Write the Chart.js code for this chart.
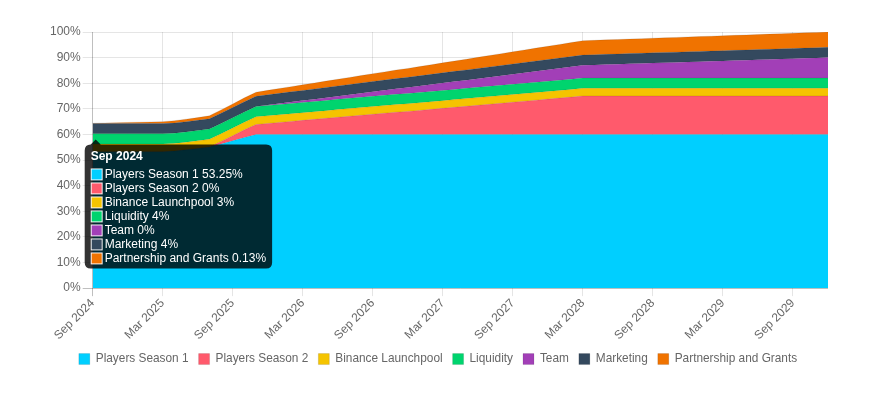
<!DOCTYPE html>
<html><head><meta charset="utf-8">
<script src="https://cdn.jsdelivr.net/npm/chart.js@4.4.0/dist/chart.umd.min.js"></script>
<style>html,body{margin:0;padding:0;background:#fff;}</style>
</head><body>
<canvas id="c" width="894" height="407"></canvas>
<script>
const months = ["Sep 2024","Oct 2024","Nov 2024","Dec 2024","Jan 2025","Feb 2025","Mar 2025","Apr 2025","May 2025","Jun 2025","Jul 2025","Aug 2025",
"Sep 2025","Oct 2025","Nov 2025","Dec 2025","Jan 2026","Feb 2026","Mar 2026","Apr 2026","May 2026","Jun 2026","Jul 2026","Aug 2026",
"Sep 2026","Oct 2026","Nov 2026","Dec 2026","Jan 2027","Feb 2027","Mar 2027","Apr 2027","May 2027","Jun 2027","Jul 2027","Aug 2027",
"Sep 2027","Oct 2027","Nov 2027","Dec 2027","Jan 2028","Feb 2028","Mar 2028","Apr 2028","May 2028","Jun 2028","Jul 2028","Aug 2028",
"Sep 2028","Oct 2028","Nov 2028","Dec 2028","Jan 2029","Feb 2029","Mar 2029","Apr 2029","May 2029","Jun 2029","Jul 2029","Aug 2029",
"Sep 2029","Oct 2029","Nov 2029","Dec 2029"];

const seriesNames = ["Players Season 1","Players Season 2","Binance Launchpool","Liquidity","Team","Marketing","Partnership and Grants"];

const playersSeason1 = [53.25,53.25,53.25,53.25,53.25,53.25,53.25,53.5,54.0,54.5,55.1,56.3,57.5,58.8,
60,60,60,60,60,60,60,60,60,60,60,60,60,60,60,60,60,60,60,60,60,60,60,60,60,60,60,60,60,60,60,60,60,60,60,60,
60,60,60,60,60,60,60,60,60,60,60,60,60,60];
const playersSeason2 = [0,0,0,0,0,0,0,0,0,0,0,1.0,2.0,3.0,3.9,4.3,4.7,5.1,5.5,5.9,6.3,6.7,7.1,7.5,7.9,8.3,8.7,9.0,9.4,9.8,
10.2,10.6,11.0,11.4,11.8,12.2,12.6,13.0,13.4,13.8,14.2,14.6,15,15,15,15,15,15,15,15,15,15,15,15,15,15,15,15,15,15,15,15,15,15];
const binanceLaunchpool = [3,3,3,3,3,3,3,3,3,3,3,3,3,3,3,3,3,3,3,3,3,3,3,3,3,3,3,3,3,3,3,3,3,3,3,3,3,3,3,3,3,3,3,3,3,3,3,3,3,3,3,3,3,3,3,3,3,3,3,3,3,3,3,3];
const liquidity = [4,4,4,4,4,4,4,4,4,4,4,4,4,4,4,4,4,4,4,4,4,4,4,4,4,4,4,4,4,4,4,4,4,4,4,4,4,4,4,4,4,4,4,4,4,4,4,4,4,4,4,4,4,4,4,4,4,4,4,4,4,4,4,4];
const team = [0,0,0,0,0,0,0,0,0,0,0,0,0,0,0,0.18,0.36,0.54,0.71,0.89,1.07,1.25,1.43,1.61,1.79,1.96,2.14,2.32,2.5,2.68,
2.86,3.04,3.21,3.39,3.57,3.75,3.93,4.11,4.29,4.46,4.64,4.82,5.0,5.14,5.29,5.43,5.57,5.71,5.86,6.0,6.14,6.29,6.43,6.57,
6.71,6.86,7.0,7.14,7.29,7.43,7.57,7.71,7.86,8.0];
const marketing = [4,4,4,4,4,4,4,4,4,4,4,4,4,4,4,4,4,4,4,4,4,4,4,4,4,4,4,4,4,4,4,4,4,4,4,4,4,4,4,4,4,4,4,4,4,4,4,4,4,4,4,4,4,4,4,4,4,4,4,4,4,4,4,4];
const partnershipGrants = [0.13,0.24,0.34,0.45,0.55,0.66,0.76,0.87,0.97,1.08,1.18,1.29,1.39,1.5,1.6,1.74,1.89,2.03,2.17,2.31,
2.46,2.6,2.74,2.89,3.03,3.17,3.31,3.46,3.6,3.74,3.89,4.03,4.17,4.31,4.46,4.6,4.74,4.89,5.03,5.17,5.31,5.46,5.6,
5.62,5.64,5.66,5.68,5.7,5.72,5.74,5.76,5.78,5.8,5.81,5.83,5.85,5.87,5.89,5.91,5.93,5.95,5.97,5.99,6.0];

const yTicks = [0,10,20,30,40,50,60,70,80,90,100];

const colors = ["#00CFFF","#FF5A6C","#F5C400","#00D46E","#A23FB7","#34495E","#F07300"];
const seriesValues = [playersSeason1,playersSeason2,binanceLaunchpool,liquidity,team,marketing,partnershipGrants];

Chart.defaults.font.family = "'Liberation Sans', Arial, Helvetica, sans-serif";
Chart.defaults.font.size = 12;
Chart.defaults.color = '#666';

Chart.Tooltip.positioners.shifted = function(items, pos) {
  const p = Chart.Tooltip.positioners.average.call(this, items, pos);
  if (!p) return p;
  return {x: p.x + 3, y: p.y};
};

const datasets = seriesNames.map((name, i) => ({
  label: name,
  data: seriesValues[i],
  backgroundColor: colors[i],
  borderColor: 'rgba(0,0,0,0.1)',
  borderWidth: 1,
  fill: i === 0 ? 'origin' : '-1',
  pointRadius: 0,
  pointHoverRadius: 0,
  tension: 0
}));

const chart = new Chart(document.getElementById('c'), {
  type: 'line',
  data: {labels: months, datasets},
  options: {
    responsive: false,
    animation: false,
    layout: {padding: {left: 48, right: 66, top: 32, bottom: 32}},
    interaction: {mode: 'index', intersect: false},
    scales: {
      x: {
        afterFit: s => { s.height = 55; },
        grid: {
          color: c => c.index === 0 ? 'rgba(0,0,0,0.25)' : (c.index % 6 === 0 ? 'rgba(0,0,0,0.1)' : 'rgba(0,0,0,0)'),
          tickLength: 8
        },
        border: {display: false},
        ticks: {
          autoSkip: false,
          padding: 0,
          minRotation: 45, maxRotation: 45,
          callback: function(v, idx) { return idx % 6 === 0 ? months[idx] : ''; }
        }
      },
      y: {
        stacked: true,
        min: 0, max: 100,
        afterBuildTicks: s => { s.ticks = yTicks.map(v => ({value: v})); },
        grid: {
          color: c => c.tick && c.tick.value === 0 ? 'rgba(0,0,0,0.25)' : 'rgba(0,0,0,0.1)',
          tickLength: 10
        },
        border: {display: false},
        ticks: {padding: 2, callback: v => v + '%'}
      }
    },
    plugins: {
      legend: {
        position: 'bottom',
        labels: {boxWidth: 11, boxHeight: 11, padding: 10, color: '#666', font: {size: 11.85}}
      },
      tooltip: {
        position: 'shifted',
        xAlign: 'left', yAlign: 'top',
        backgroundColor: 'rgba(0,0,0,0.8)',
        titleFont: {weight: 'bold', size: 12, lineHeight: 1},
        bodyFont: {size: 12, lineHeight: 1},
        titleMarginBottom: 6,
        bodySpacing: 2,
        padding: {top: 6, bottom: 4, left: 6, right: 6},
        cornerRadius: 6,
        caretSize: 5,
        caretPadding: 2,
        boxWidth: 12, boxHeight: 12,
        callbacks: {
          label: ctx => ctx.dataset.label + ' ' + ctx.parsed.y + '%'
        }
      }
    }
  }
});

chart.tooltip.setActiveElements(datasets.map((d, i) => ({datasetIndex: i, index: 0})), {x: 92, y: 140});
chart.update();
</script>
</body></html>
